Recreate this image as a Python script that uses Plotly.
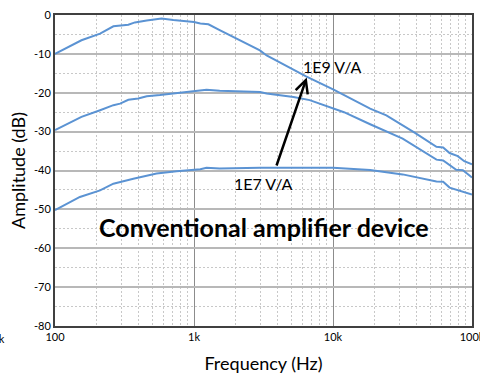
import plotly.graph_objects as go
import math

# ---- data ----
freq_1e9 = [100, 155, 211, 263, 337, 376, 457, 584, 710, 1000, 1110, 1270, 1530, 2270, 2980,
            3330, 6400, 10100, 18500, 24200, 38900, 55500, 62000, 69000, 79000, 88000, 100000]
amp_1e9 = [-10.0, -6.5, -4.8, -2.9, -2.5, -1.9, -1.4, -0.9, -1.3, -1.8, -2.2, -2.4, -3.9, -6.9, -9.1,
           -10.4, -15.8, -19.2, -24.1, -25.8, -30.3, -33.9, -34.1, -35.5, -36.3, -37.6, -38.4]

freq_1e8 = [100, 155, 211, 263, 294, 337, 397, 457, 569, 710, 1000, 1110, 1230, 1530, 2980,
            3330, 5200, 6800, 10100, 12000, 18500, 31700, 55500, 62000, 77000, 86000, 100000]
amp_1e8 = [-29.6, -26.2, -24.5, -23.2, -22.8, -21.8, -21.5, -20.9, -20.6, -20.2, -19.6, -19.4, -19.2, -19.5, -19.8,
           -20.2, -21.1, -21.9, -24.1, -25.0, -28.1, -31.8, -37.2, -37.4, -39.8, -39.9, -41.8]

freq_1e7 = [100, 151, 211, 263, 366, 538, 750, 1110, 1230, 1530, 3000, 10000, 18500, 31700,
            55500, 62000, 69000, 82000, 100000]
amp_1e7 = [-50.2, -46.8, -45.1, -43.4, -42.1, -40.8, -40.2, -39.7, -39.3, -39.5, -39.3, -39.3, -39.9, -41.0,
           -42.8, -42.9, -44.4, -45.2, -46.2]

x_tickvals = [100, 1000, 10000, 100000]
x_ticktext = ["100", "1k", "10k", "100k"]
y_tickvals = [0, -10, -20, -30, -40, -50, -60, -70, -80]
y_ticktext = ["0", "-10", "-20", "-30", "-40", "-50", "-60", "-70", "-80"]

BLUE = "#5B93D3"
FONT = "Lato"

fig = go.Figure()
for fx, fy in [(freq_1e9, amp_1e9), (freq_1e8, amp_1e8), (freq_1e7, amp_1e7)]:
    fig.add_trace(go.Scatter(x=fx, y=fy, mode="lines",
                             line=dict(color=BLUE, width=2), showlegend=False,
                             hoverinfo="skip"))

annotations = [
    dict(x=math.log10(9900), y=-13.2, xref="x", yref="y", text="1E9 V/A", showarrow=False,
         font=dict(family=FONT, size=16, color="#000000")),
    dict(x=math.log10(3150), y=-43.3, xref="x", yref="y", text="1E7 V/A", showarrow=False,
         font=dict(family=FONT, size=16, color="#000000")),
    dict(x=math.log10(3180), y=-54.5, xref="x", yref="y", text="<b>Conventional amplifier device</b>",
         showarrow=False, font=dict(family=FONT, size=25, color="#000000")),
    dict(x=math.log10(6470), y=-16.1, xref="x", yref="y", text="", showarrow=True,
         ax=-30.7, ay=89.4, axref="pixel", ayref="pixel", arrowhead=5, arrowsize=1.0,
         arrowwidth=2.5, arrowcolor="#000000", standoff=0, startstandoff=0),
    dict(x=-0.114, y=-0.0386, xref="paper", yref="paper", text="10k", showarrow=False,
         xanchor="right", yanchor="middle", font=dict(family=FONT, size=11, color="#000000")),
]

fig.update_layout(
    width=480, height=374,
    margin=dict(l=55, r=8, t=15, b=48, pad=0, autoexpand=False),
    plot_bgcolor="white", paper_bgcolor="white",
    font=dict(family=FONT, color="#000000"),
    annotations=annotations,
    xaxis=dict(
        type="log", range=[2, 5], automargin=False,
        tickmode="array", tickvals=x_tickvals, ticktext=x_ticktext,
        tickfont=dict(size=11, family=FONT, color="#000000"),
        ticklabeloverflow="allow",
        ticks="", showgrid=True, gridcolor="#8c8c8c", gridwidth=1,
        minor=dict(dtick="D1", showgrid=True, gridcolor="#c8c8c8", gridwidth=1, griddash="2px,2px", ticks=""),
        showline=True, mirror=True, linecolor="#404040", linewidth=2,
        zeroline=False,
        title=dict(text="Frequency (Hz)", font=dict(size=18, family=FONT, color="#000000"), standoff=16),
    ),
    yaxis=dict(
        range=[-80, 0], automargin=False,
        tickmode="array", tickvals=y_tickvals, ticktext=y_ticktext,
        tickfont=dict(size=11, family=FONT, color="#000000"),
        ticklabeloverflow="allow",
        ticks="", showgrid=True, gridcolor="#b8b8b8", gridwidth=1.5,
        minor=dict(dtick=5, tick0=0, showgrid=True, gridcolor="#c8c8c8", gridwidth=1, griddash="2px,2px", ticks=""),
        showline=True, mirror=True, linecolor="#404040", linewidth=2,
        zeroline=False,
        title=dict(text="Amplitude (dB)", font=dict(size=18, family=FONT, color="#000000"), standoff=4),
    ),
)

fig.write_html("out.html", config={"displayModeBar": False},
               post_script="document.body.style.margin='0px';document.body.style.padding='0px';")
